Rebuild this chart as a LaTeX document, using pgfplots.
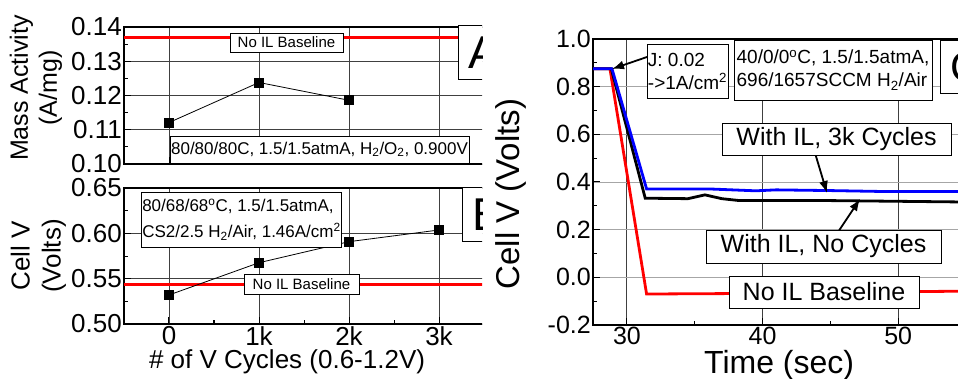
\documentclass[border=0pt]{standalone}
\usepackage{pgfplots}
\pgfplotsset{compat=1.18}
\usepackage{fontspec}
\setmainfont{Liberation Sans}
\usetikzlibrary{arrows.meta}
\pgfplotsset{
  common/.style={
    scale only axis, anchor=south west,
    axis line style={line width=1.6pt},
    tick style={line width=1pt, black},
    tick align=inside, tick pos=left,
    major tick length=7pt, minor tick length=4pt,
    minor tick num=1,
    grid=major, major grid style={line width=0.9pt, black!75},
    /pgf/number format/assume math mode=true,
    clip=true,
  }
}
\begin{document}
\begin{tikzpicture}
\begin{scope}
\clip (-5pt,5pt) rectangle (482pt,-384pt);
% ---------- Panel A
\begin{axis}[common,
  at={(124pt,-164pt)}, width=360pt, height=137pt,
  xmin=-0.5, xmax=3.5, ymin=0.10, ymax=0.14,
  xtick={0,1,2,3}, xticklabels={},
  ytick={0.10,0.11,0.12,0.13,0.14},
  yticklabel style={font=\fontsize{26}{26}\selectfont, inner sep=2pt,
    /pgf/number format/.cd, fixed, fixed zerofill, precision=2},
  ylabel={Mass Activity\\(A/mg)},
  ylabel style={at={(axis description cs:-0.245,0.555)}, anchor=center, align=center,
    font=\fontsize{25}{29}\selectfont},
]
\addplot[red, line width=3pt] coordinates {(-0.5,0.137) (3.5,0.137)};
\addplot[black, line width=0.8pt, mark=square*, mark size=4.5pt] coordinates {(0,0.1121) (1,0.1238) (2,0.1186)};
\end{axis}
% ---------- Panel B
\begin{axis}[common,
  at={(124pt,-324pt)}, width=360pt, height=136pt,
  xmin=-0.5, xmax=3.5, ymin=0.50, ymax=0.65,
  xtick={0,1,2,3}, xticklabels={0,1k,2k,3k},
  ytick={0.50,0.55,0.60,0.65},
  xticklabel style={font=\fontsize{26}{26}\selectfont, inner sep=2pt},
  yticklabel style={font=\fontsize{26}{26}\selectfont, inner sep=2pt,
    /pgf/number format/.cd, fixed, fixed zerofill, precision=2},
  ylabel={Cell V\\(Volts)},
  ylabel style={at={(axis description cs:-0.238,0.5)}, anchor=center, align=center,
    font=\fontsize{26}{31}\selectfont},
  xlabel={\# of V Cycles (0.6-1.2V)},
  xlabel style={at={(axis description cs:0.453,0)}, anchor=center, yshift=-38pt,
    font=\fontsize{26}{26}\selectfont},
]
\addplot[red, line width=3pt] coordinates {(-0.5,0.544) (3.5,0.544)};
\addplot[black, line width=0.8pt, mark=square*, mark size=4.5pt] coordinates {(0,0.532) (1,0.5676) (2,0.5908) (3,0.6037)};
\end{axis}
\begin{scope}[x=1pt,y=-1pt]
\node[draw, fill=white, line width=0.8pt, minimum width=113pt, minimum height=19pt, inner sep=0pt,
  font=\fontsize{15}{15}\selectfont] at (286.5,42.5) {No IL Baseline};
\node[draw, fill=white, line width=0.8pt, minimum width=299pt, minimum height=27pt, inner sep=0pt,
  font=\fontsize{17}{17}\selectfont] at (319.5,149.5) {80/80/80C, 1.5/1.5atmA, H\textsubscript{2}/O\textsubscript{2}, 0.900V};
\node[draw, fill=white, line width=0.8pt, anchor=north west, minimum width=50pt, minimum height=54pt, inner sep=2pt,
  font=\fontsize{46}{46}\selectfont] at (458,25) {A};
\node[draw, fill=white, line width=0.8pt, minimum width=199pt, minimum height=55pt, inner sep=1pt, align=left,
  font=\fontsize{17}{26}\selectfont] at (241.5,219.5) {80/68/68\textsuperscript{o}C, 1.5/1.5atmA,\\CS2/2.5 H\textsubscript{2}/Air, 1.46A/cm\textsuperscript{2}};
\node[draw, fill=white, line width=0.8pt, minimum width=115pt, minimum height=20pt, inner sep=0pt,
  font=\fontsize{15}{15}\selectfont] at (301.5,284) {No IL Baseline};
\node[draw, fill=white, line width=0.8pt, anchor=north west, minimum width=50pt, minimum height=54pt, inner sep=2pt,
  font=\fontsize{46}{46}\selectfont] at (462,187) {B};
\end{scope}
\end{scope}
% ---------- Panel C
\begin{axis}[common,
  at={(593pt,-325pt)}, width=373pt, height=286pt,
  xmin=27.5, xmax=55, ymin=-0.2, ymax=1.0,
  xtick={30,40,50},
  ytick={-0.2,0,0.2,0.4,0.6,0.8,1.0},
  x grid style={line width=0.9pt, black!75},
  y grid style={line width=0.9pt, black!35},
  xticklabel style={font=\fontsize{25}{25}\selectfont, inner sep=2pt},
  yticklabel style={font=\fontsize{25}{25}\selectfont, inner sep=2pt,
    /pgf/number format/.cd, fixed, fixed zerofill, precision=1},
  ylabel={Cell V (Volts)},
  ylabel style={at={(axis description cs:-0.22,0.458)}, anchor=center,
    font=\fontsize{33}{33}\selectfont},
  xlabel={Time (sec)},
  xlabel style={at={(axis description cs:0.499,0)}, anchor=center, yshift=-40pt,
    font=\fontsize{32}{32}\selectfont},
]
\addplot[red, line width=2.8pt] coordinates {(27.5,0.875) (28.75,0.875) (31.45,-0.07) (38,-0.068) (45,-0.063) (55,-0.058)};
\addplot[black, line width=2.8pt] coordinates {(27.5,0.875) (28.85,0.875) (31.35,0.332) (34.5,0.330) (35.75,0.346) (37,0.33) (38.3,0.322) (45,0.322) (55,0.316)};
\addplot[blue, line width=2.8pt] coordinates {(27.5,0.875) (28.9,0.875) (31.45,0.371) (36,0.371) (39.5,0.363) (41,0.367) (45,0.364) (49,0.36) (55,0.36)};
\end{axis}
\begin{scope}[x=1pt,y=-1pt]
\draw[line width=1.8pt, -{Latex[length=12pt,width=9pt]}] (647,57) -- (612,69);
\node[draw, fill=white, line width=0.8pt, minimum width=79pt, minimum height=54pt, inner sep=1pt, align=left,
  font=\fontsize{19}{23}\selectfont] at (687.5,71) {J: 0.02\\->1A/cm\textsuperscript{2}};
\node[draw, fill=white, line width=0.8pt, minimum width=198pt, minimum height=60pt, inner sep=1pt, align=left,
  font=\fontsize{19}{23}\selectfont] at (833,70) {40/0/0\textsuperscript{o}C, 1.5/1.5atmA,\\696/1657SCCM H\textsubscript{2}/Air};
\node[draw, fill=white, line width=0.8pt, anchor=north west, minimum width=50pt, minimum height=53pt, inner sep=2pt,
  font=\fontsize{42}{42}\selectfont] at (940,40) {C};
\draw[line width=1.8pt, -{Latex[length=12pt,width=9pt]}] (815,153) -- (827,193);
\node[draw, fill=white, line width=0.8pt, minimum width=229pt, minimum height=32pt, inner sep=0pt,
  font=\fontsize{25}{25}\selectfont] at (836.5,139) {With IL, 3k Cycles};
\draw[line width=1.8pt, -{Latex[length=12pt,width=9pt]}] (838,232) -- (860,199);
\node[draw, fill=white, line width=0.8pt, minimum width=235pt, minimum height=33pt, inner sep=0pt,
  font=\fontsize{25}{25}\selectfont] at (823.5,246.5) {With IL, No Cycles};
\node[draw, fill=white, line width=0.8pt, minimum width=190pt, minimum height=32pt, inner sep=0pt,
  font=\fontsize{25}{25}\selectfont] at (824,292) {No IL Baseline};
\end{scope}
\pgfresetboundingbox
\path[use as bounding box] (0pt,0pt) rectangle (958pt,-379pt);
\end{tikzpicture}
\end{document}
